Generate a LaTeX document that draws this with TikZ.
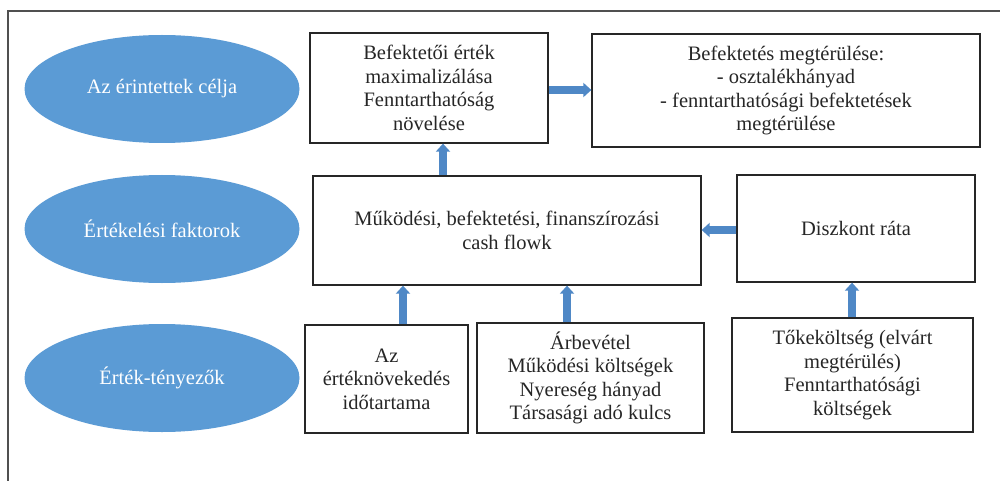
\documentclass[tikz,border=0pt]{standalone}
\usepackage{fontspec}
\setmainfont{Liberation Serif}
\usetikzlibrary{shapes.geometric,arrows.meta}
\definecolor{ellblue}{HTML}{5B9BD5}
\definecolor{arrblue}{HTML}{4F88C6}
\definecolor{frame}{HTML}{505050}
\definecolor{txt}{HTML}{262626}
\tikzset{
  ell/.style={ellipse, fill=ellblue, draw=none, minimum width=275pt, minimum height=108pt, text=white, font=\fontsize{20.5}{22}\selectfont, inner sep=0pt},
  box/.style={rectangle, draw=black!85, line width=1.3pt, fill=white, align=center, text=txt, font=\fontsize{20.5}{23.5}\selectfont, inner sep=0pt},
  blk/.style={draw=arrblue, line width=8.5pt, -{Triangle[width=14pt,length=8pt]}, shorten >=0pt},
}
\begin{document}
\begin{tikzpicture}[x=1pt,y=-1pt]
\useasboundingbox (0,0) rectangle (1000,481);
\fill[white] (0,0) rectangle (1000,481);
\draw[frame, line width=1.6pt] (8,481) -- (8,11) -- (1000,11);
% ellipses
\node[ell] (e1) at (162,89) {Az érintettek célja};
\node[ell] (e2) at (162,229) {Értékelési faktorok};
\node[ell] (e3) at (162,378) {Érték-tényezők};
% boxes
\node[box, minimum width=238pt, minimum height=110pt] (a) at (429,88) {Befektetői érték\\maximalizálása\\Fenntarthatóság\\növelése};
\node[box, minimum width=388pt, minimum height=113pt] (b) at (786,90.5) {Befektetés megtérülése:\\- osztalékhányad\\- fenntarthatósági befektetések\\megtérülése};
\node[box, minimum width=388pt, minimum height=109pt] (c) at (507,230.5) {Működési, befektetési, finanszírozási\\cash flowk};
\node[box, minimum width=238pt, minimum height=107pt] (d) at (856,228.5) {Diszkont ráta};
\node[box, minimum width=163pt, minimum height=108pt] (e) at (386.5,379) {Az\\értéknövekedés\\időtartama};
\node[box, minimum width=227pt, minimum height=110pt] (f) at (590.5,378) {Árbevétel\\Működési költségek\\Nyereség hányad\\Társasági adó kulcs};
\node[box, minimum width=241pt, minimum height=114pt] (g) at (852.5,375) {Tőkeköltség (elvárt\\megtérülés)\\Fenntarthatósági\\költségek};
% arrows
\draw[blk] (a.east |- 0,90) -- (b.west |- 0,90);
\draw[blk] (d.west |- 0,230) -- (c.east |- 0,230);
\draw[blk] (c.north -| 443,0) -- (a.south -| 443,0);
\draw[blk] (e.north -| 403,0) -- (c.south -| 403,0);
\draw[blk] (f.north -| 567,0) -- (c.south -| 567,0);
\draw[blk] (g.north -| 852,0) -- (d.south -| 852,0);
\end{tikzpicture}
\end{document}
